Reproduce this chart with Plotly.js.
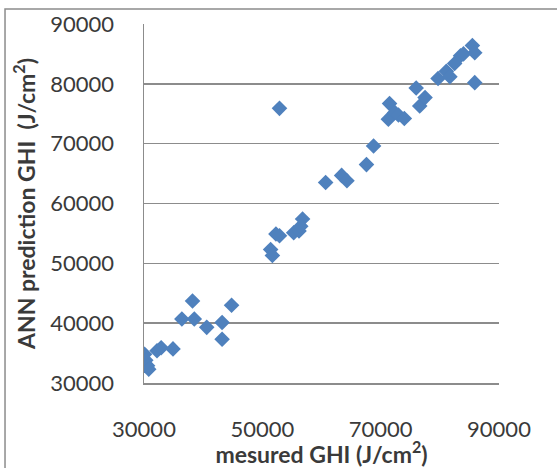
<!DOCTYPE html>
<html>
<head>
<meta charset="utf-8">
<script src="https://cdn.plot.ly/plotly-3.0.1.min.js"></script>
<style>html,body{margin:0;padding:0;background:#fff;}#chart{width:557px;height:468px;}</style>
</head>
<body>
<div id="chart"></div>
<script>
// measured GHI (J/cm2)
var measuredGHI = [30100,30300,30600,30800,32200,32900,34900,36400,38200,38500,40600,43200,43200,44800,
  52900,51400,51700,52300,52900,55300,56200,56800,56500,60700,63400,64300,67600,68800,
  71500,71300,72400,73000,74000,76000,76600,77500,79700,81100,81700,82500,83500,84000,85500,85900,85900];
// ANN prediction GHI (J/cm2)
var predictedGHI = [34800,33800,32900,32300,35400,35900,35700,40700,43700,40700,39300,40100,37300,43000,
  75900,52300,51300,54900,54600,55100,55400,57400,56200,63500,64700,63800,66500,69600,
  76700,74100,75200,74800,74200,79300,76300,77700,80900,82100,81200,83400,84700,85000,86400,85200,80200];
var xTicks = [30000,50000,70000,90000];
var yTicks = [30000,40000,50000,60000,70000,80000,90000];

var fontFam = 'Lato, "Open Sans", sans-serif';
var trace = {
  x: measuredGHI, y: predictedGHI, type: 'scatter', mode: 'markers',
  marker: {symbol: 'diamond', size: 12, color: '#4F81BD', line: {width: 0}},
  hoverinfo: 'x+y'
};
var layout = {
  width: 557, height: 468,
  margin: {l: 144, r: 58, t: 24, b: 85, pad: 0},
  paper_bgcolor: '#fff', plot_bgcolor: '#fff',
  showlegend: false,
  font: {family: fontFam, color: '#3a3a3a', size: 22},
  xaxis: {
    range: [30000, 90000], tickvals: xTicks, ticktext: xTicks.map(String),
    showgrid: false, zeroline: false,
    showline: true, linecolor: '#8c8c8c', linewidth: 1.5,
    ticks: 'outside', ticklen: 26, tickcolor: 'rgba(0,0,0,0)',
    tickfont: {family: fontFam, size: 22, color: '#3a3a3a'},
    title: {text: 'mesured GHI (J/cm<sup>2</sup>)', font: {family: fontFam, size: 23, color: '#3a3a3a', weight: 'bold'}, standoff: 6}
  },
  yaxis: {
    range: [30000, 90000], tickvals: yTicks, ticktext: yTicks.map(String),
    showgrid: true, gridcolor: '#8c8c8c', gridwidth: 1.5, zeroline: false,
    showline: true, linecolor: '#8c8c8c', linewidth: 1.5,
    ticks: 'outside', ticklen: 24, tickcolor: 'rgba(0,0,0,0)',
    tickfont: {family: fontFam, size: 22, color: '#3a3a3a'},
    title: {text: 'ANN prediction GHI  (J/cm<sup>2</sup>)', font: {family: fontFam, size: 23, color: '#3a3a3a', weight: 'bold'}, standoff: 8}
  },
  shapes: [{
    type: 'rect', xref: 'paper', yref: 'paper',
    x0: -0.3915, x1: 1.2, y0: -0.3, y1: 1.0418,
    line: {color: '#8c8c8c', width: 1.5}, fillcolor: 'rgba(0,0,0,0)', layer: 'below'
  }]
};
Plotly.newPlot('chart', [trace], layout, {displayModeBar: false, staticPlot: true});
</script>
</body>
</html>
